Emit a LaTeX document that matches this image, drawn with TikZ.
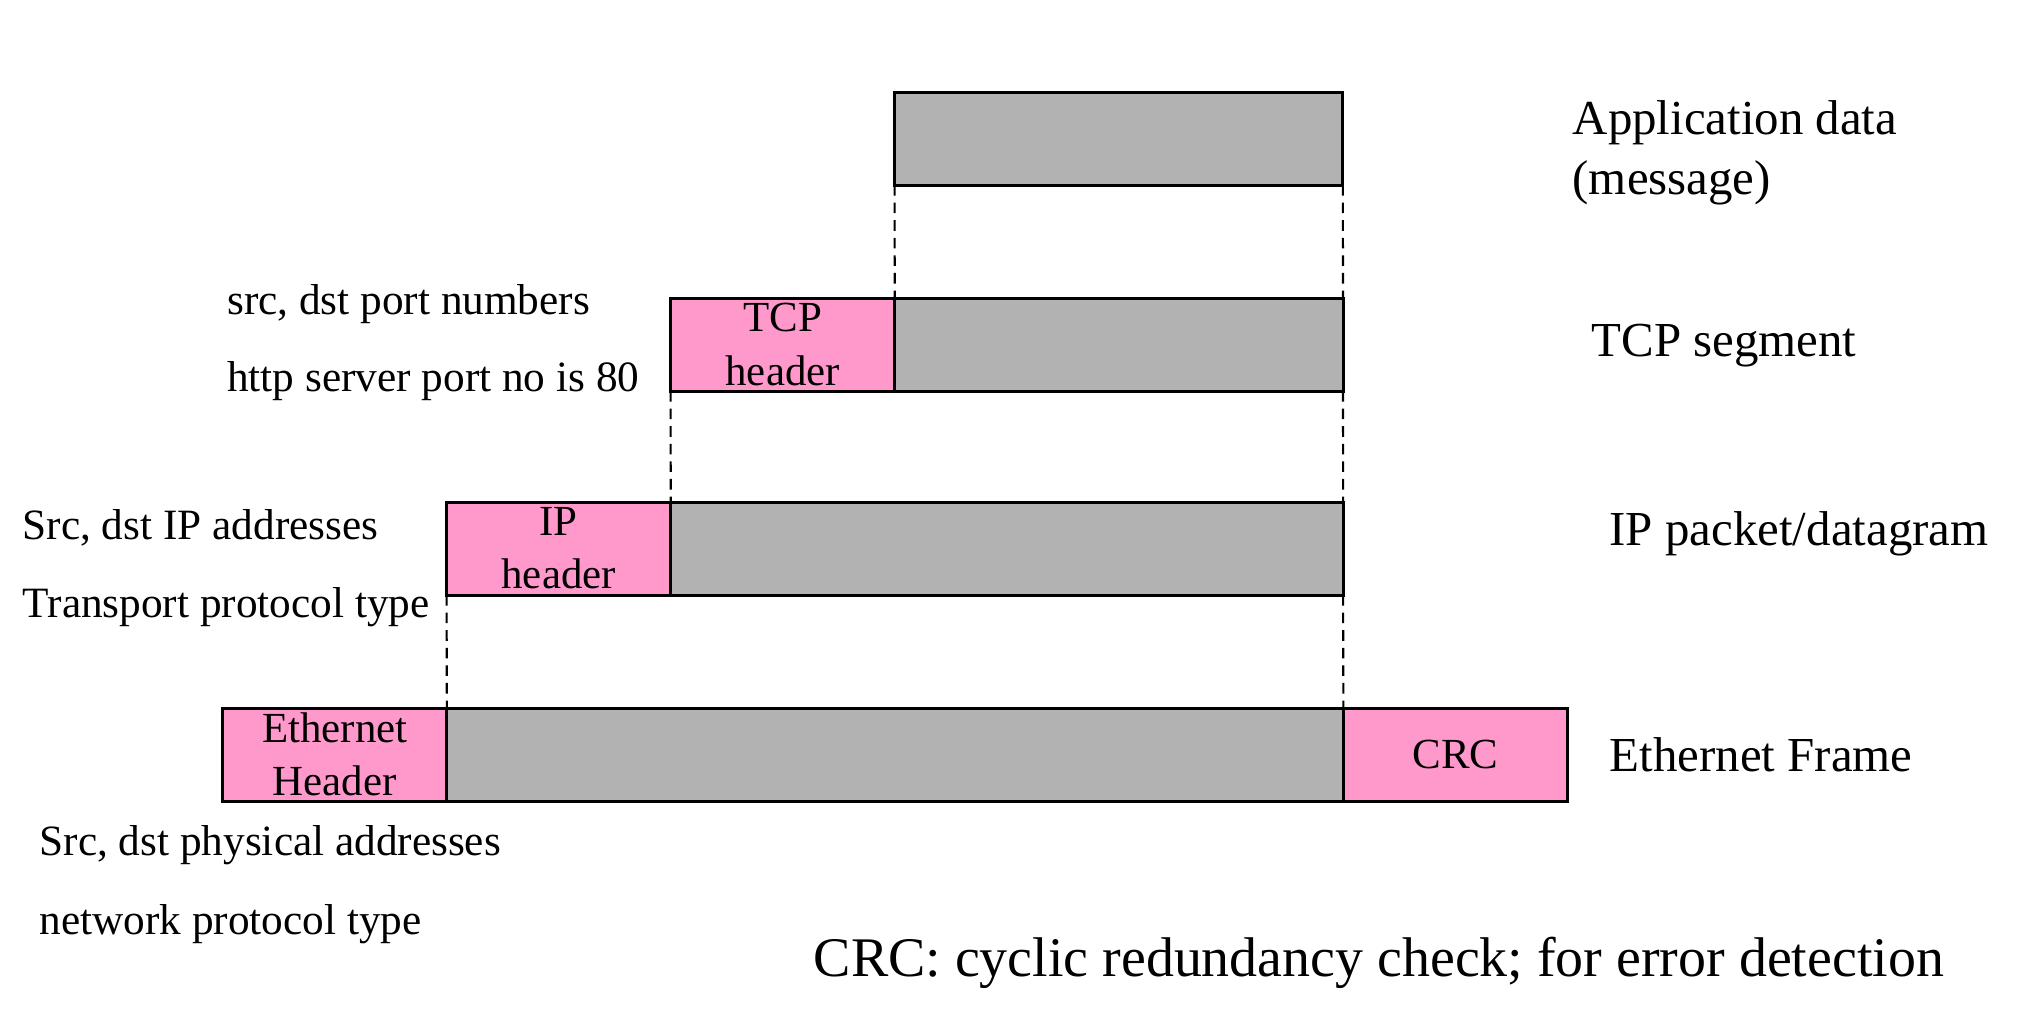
\documentclass[tikz,border=0pt]{standalone}
\usepackage{fontspec}
\setmainfont{Liberation Serif}
\usetikzlibrary{positioning}
\definecolor{hdrpink}{RGB}{255,153,204}
\definecolor{paygray}{RGB}{178,178,178}

\begin{document}
\begin{tikzpicture}[x=0.01cm, y=-0.01cm,
  box/.style={draw, line width=0.85pt, inner sep=0pt, outer sep=0pt,
    minimum height=0.93cm, align=center,
    font=\fontsize{12.2}{15.1}\selectfont},
  hdr/.style={box, fill=hdrpink, minimum width=2.24cm},
  pay/.style={box, fill=paygray},
  lbl/.style={anchor=west, inner sep=0pt, font=\fontsize{12.3}{14}\selectfont},
  layer/.style={anchor=west, inner sep=0pt, align=left,
    font=\fontsize{13.9}{17.2}\selectfont},
  note/.style={anchor=west, inner sep=0pt, font=\fontsize{15.9}{18}\selectfont},
  guide/.style={line width=0.6pt, dash pattern=on 3pt off 2pt}]
  % Page size of the reference, in pixels
  \useasboundingbox (0,0) rectangle (2030,1008);
  % Application data on top, then each layer adds its header
  \node[pay, minimum width=4.48cm, anchor=north west] (app) at (894.6,92) {};
  \node[hdr, anchor=north west] (tcphdr) at (670.6,298) {TCP\\header};
  \node[pay, minimum width=4.48cm, right=0pt of tcphdr] (tcpdata) {};
  \node[hdr, anchor=north west] (iphdr) at (446.6,502) {IP\\header};
  \node[pay, minimum width=6.72cm, right=0pt of iphdr] (ipdata) {};
  \node[hdr, anchor=north west] (ethhdr) at (222.7,708) {Ethernet\\Header};
  \node[pay, minimum width=8.96cm, right=0pt of ethhdr] (ethdata) {};
  % Ethernet also appends a trailer
  \node[hdr, right=0pt of ethdata] (crc) {CRC};
  % Dashed guides: payload of one layer = whole unit of the layer above
  \draw[guide] (app.south west) -- (tcpdata.north west);
  \draw[guide] (app.south east) -- (tcpdata.north east);
  \draw[guide] (tcphdr.south west) -- (ipdata.north west);
  \draw[guide] (tcpdata.south east) -- (ipdata.north east);
  \draw[guide] (iphdr.south west) -- (ethdata.north west);
  \draw[guide] (ipdata.south east) -- (ethdata.north east);
  % Layer names on the right
  \node[layer] (applbl) at (1572,153) {Application data\\(message)};
  \node[layer] (tcplbl) at (1591,346) {TCP segment};
  \node[layer] (iplbl) at (1609,534) {IP packet/datagram};
  \node[layer] (ethlbl) at (1609,755) {Ethernet Frame};
  % What each header carries
  \node[lbl] (portlbl) at (226.5,304) {src, dst port numbers};
  \node[lbl] (httplbl) at (226.5,381) {http server port no is 80};
  \node[lbl] (addrlbl) at (22,528) {Src, dst IP addresses};
  \node[lbl] (translbl) at (22,607) {Transport protocol type};
  \node[lbl] (physlbl) at (39,845) {Src, dst physical addresses};
  \node[lbl] (netlbl) at (39,924) {network protocol type};
  \node[note] (crclbl) at (813,963) {CRC: cyclic redundancy check; for error detection};
\end{tikzpicture}
\end{document}
